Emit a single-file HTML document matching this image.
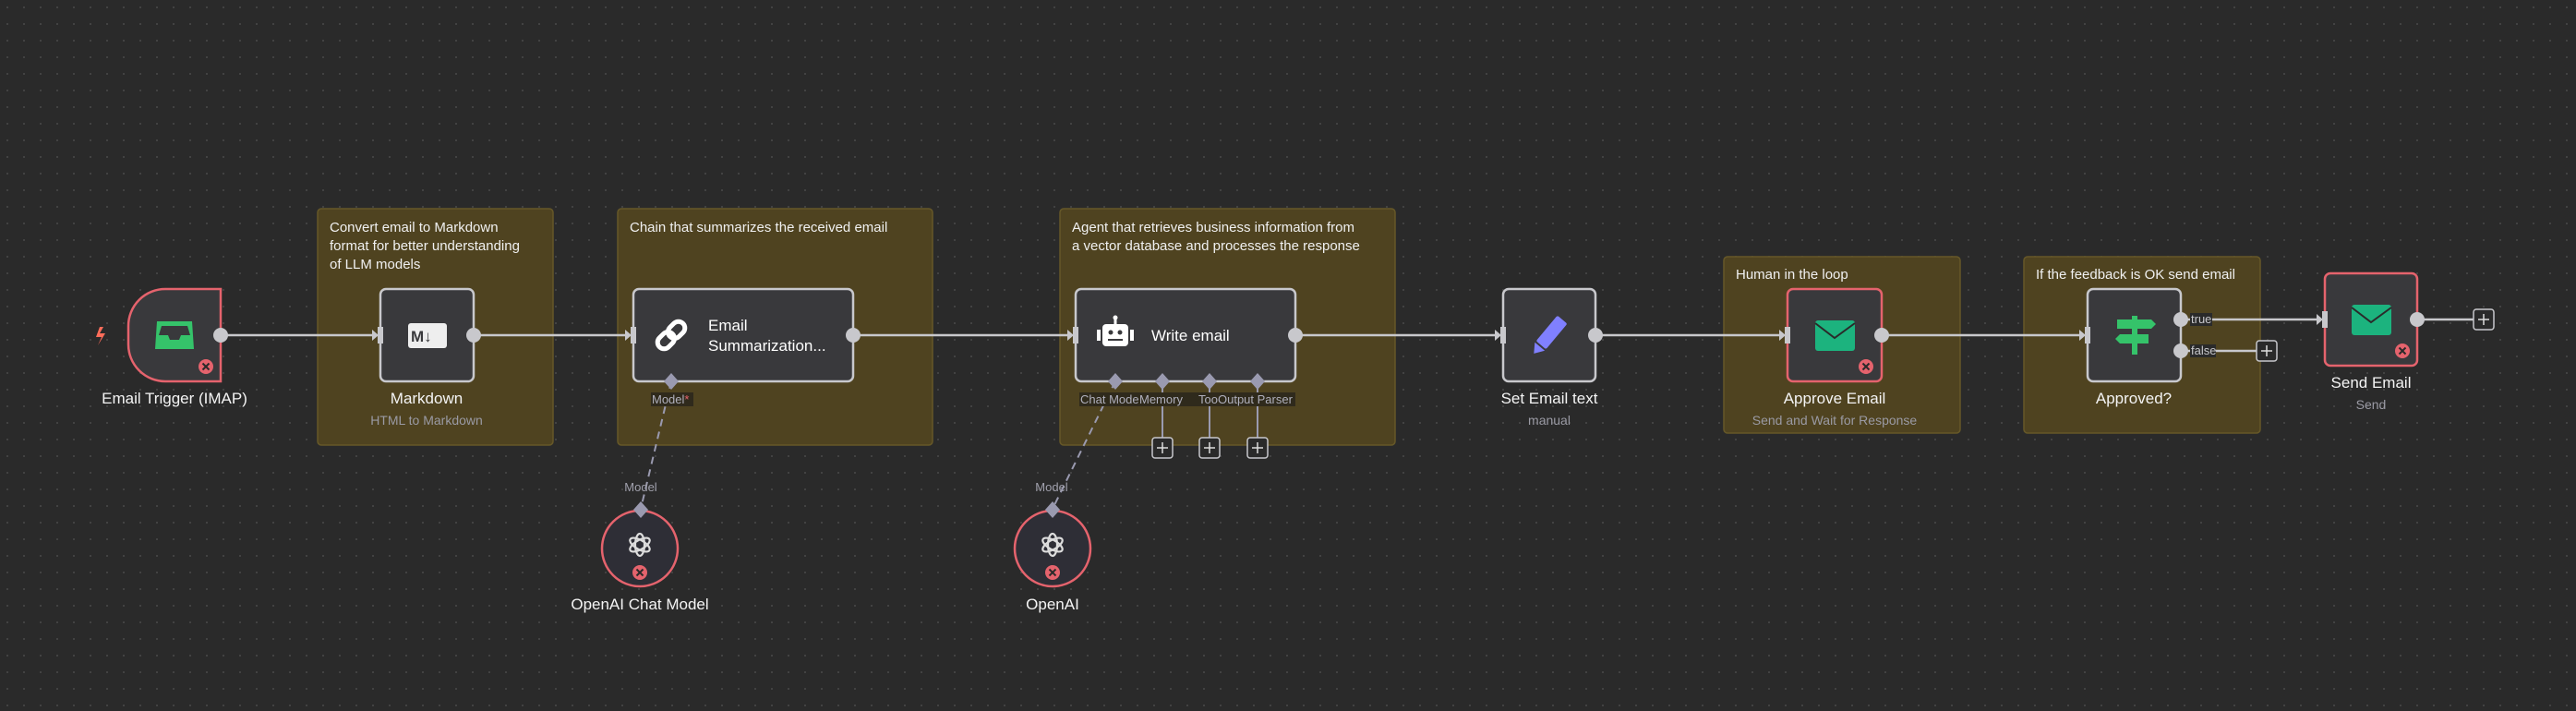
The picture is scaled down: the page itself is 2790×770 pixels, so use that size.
<!DOCTYPE html>
<html><head><meta charset="utf-8"><style>
html,body{margin:0;padding:0;background:#2a2a2a;}
svg{display:block;font-family:"Liberation Sans",sans-serif;}
</style></head><body>
<svg width="2790" height="770" viewBox="0 0 2790 770" xmlns="http://www.w3.org/2000/svg">
<defs>
<pattern id="dots" width="18" height="18" patternUnits="userSpaceOnUse"><circle cx="8" cy="8" r="1" fill="#4a4a4a"/></pattern>
<g id="xerr"><circle r="8" fill="#e5636d"/><path d="M-3.5,-3.5L3.5,3.5M3.5,-3.5L-3.5,3.5" stroke="#2a2a2a" stroke-width="2"/></g>
<g id="inh"><path d="M-9,-6L-2,0L-9,6Z" fill="#c8c8cc"/><rect x="-3" y="-9" width="6" height="18" fill="#c8c8cc"/></g>
<g id="oai"><g fill="none" stroke="#ddd" stroke-width="2.2"><ellipse rx="5" ry="12" transform="rotate(0)"/><ellipse rx="5" ry="12" transform="rotate(60)"/><ellipse rx="5" ry="12" transform="rotate(120)"/></g></g>
<g id="plus"><rect x="-11" y="-11" width="22" height="22" rx="3" fill="#2a2a2a" stroke="#c8c8cc" stroke-width="1.5"/><path d="M-6,0H6M0,-6V6" stroke="#ddd" stroke-width="1.5"/></g>
</defs>
<rect width="2790" height="770" fill="#2a2a2a"/>
<rect width="2790" height="770" fill="url(#dots)"/>

<!-- stickies -->
<g fill="#4f4320" stroke="#665828" stroke-width="1.5">
<rect x="344" y="226" width="255" height="256" rx="4"/>
<rect x="669" y="226" width="341" height="256" rx="4"/>
<rect x="1148" y="226" width="363" height="256" rx="4"/>
<rect x="1867" y="278" width="256" height="191" rx="4"/>
<rect x="2192" y="278" width="256" height="191" rx="4"/>
</g>
<g fill="#f0f0f0" font-size="15">
<text x="357" y="251">Convert email to Markdown</text>
<text x="357" y="271">format for better understanding</text>
<text x="357" y="291">of LLM models</text>
<text x="682" y="251">Chain that summarizes the received email</text>
<text x="1161" y="251">Agent that retrieves business information from</text>
<text x="1161" y="271">a vector database and processes the response</text>
<text x="1880" y="302">Human in the loop</text>
<text x="2205" y="302">If the feedback is OK send email</text>
</g>

<!-- connections -->
<g stroke="#c8c8cc" stroke-width="2.5" fill="none">
<path d="M239,363H404"/><path d="M513,363H678"/><path d="M924,363H1157"/>
<path d="M1403,363H1620"/><path d="M1728,363H1928"/><path d="M2038,363H2253"/>
<path d="M2362,346H2510"/><path d="M2362,380H2444"/><path d="M2618,346H2679"/>
</g>
<g stroke="#9a9ab0" stroke-width="2" fill="none">
<path d="M727,413L694,551" stroke-dasharray="8,6"/>
<path d="M1208,413L1140,551" stroke-dasharray="8,6"/>
<path d="M1259,413V474M1310,413V474M1362,413V474"/>
</g>

<!-- nodes -->
<path d="M179,313H239V413H179A40,40 0 0 1 139,373V353A40,40 0 0 1 179,313Z" fill="#39393c" stroke="#e5636d" stroke-width="2.5"/>
<path d="M108,354L104,365H110L106,374L114,361H108L112,354Z" fill="#ff6d5a"/>
<g transform="translate(189,363)"><path d="M-19,-15H19L21,15H-21Z M-14,-10L-17,0H-7L-5,5H5L7,0H17L14,-10Z" fill="#35c36a" fill-rule="evenodd"/></g>
<use href="#xerr" x="223" y="397"/>
<circle cx="239" cy="363" r="8" fill="#c8c8cc"/>

<rect x="412" y="313" width="101" height="100" rx="6" fill="#39393c" stroke="#c8c8cc" stroke-width="2.5"/>
<rect x="442" y="350" width="42" height="27" rx="3" fill="#eee"/>
<text x="445" y="370" font-size="17" font-weight="bold" fill="#39393c">M↓</text>
<use href="#inh" x="412" y="363"/><circle cx="513" cy="363" r="8" fill="#c8c8cc"/>

<rect x="686" y="313" width="238" height="100" rx="6" fill="#39393c" stroke="#c8c8cc" stroke-width="2.5"/>
<g transform="translate(727,363) rotate(-45)" fill="none" stroke="#fff" stroke-width="5"><rect x="-18" y="-7" width="20" height="14" rx="7"/><rect x="-2" y="-7" width="20" height="14" rx="7"/></g>
<text x="767" y="358" font-size="17" fill="#fff">Email</text>
<text x="767" y="380" font-size="17" fill="#fff">Summarization...</text>
<use href="#inh" x="686" y="363"/><circle cx="924" cy="363" r="8" fill="#c8c8cc"/>
<path d="M727,404L735,413L727,422L719,413Z" fill="#9a9ab0"/>
<rect x="705" y="425" width="46" height="15" fill="#2f2a1c"/>
<text x="706" y="437" font-size="13" fill="#b0b0bc">Model<tspan fill="#e5636d">*</tspan></text>

<rect x="1165" y="313" width="238" height="100" rx="6" fill="#39393c" stroke="#c8c8cc" stroke-width="2.5"/>
<g transform="translate(1208,363)" fill="#fff"><rect x="-14" y="-12" width="28" height="24" rx="4"/><rect x="-20" y="-6" width="4" height="12"/><rect x="16" y="-6" width="4" height="12"/><rect x="-1.5" y="-19" width="3" height="7"/><circle cy="-19" r="2.5"/></g>
<g fill="#39393c"><circle cx="1203" cy="360" r="2.5"/><circle cx="1213" cy="360" r="2.5"/><rect x="1200" y="367" width="16" height="2"/></g>
<text x="1247" y="369" font-size="17" fill="#fff">Write email</text>
<use href="#inh" x="1165" y="363"/><circle cx="1403" cy="363" r="8" fill="#c8c8cc"/>
<g fill="#9a9ab0"><path d="M1208,404L1216,413L1208,422L1200,413Z"/><path d="M1259,404L1267,413L1259,422L1251,413Z"/><path d="M1310,404L1318,413L1310,422L1302,413Z"/><path d="M1362,404L1370,413L1362,422L1354,413Z"/></g>
<rect x="1169" y="425" width="234" height="15" fill="#2f2a1c"/>
<g font-size="13" fill="#b0b0bc"><text x="1170" y="437">Chat Mode</text><text x="1234" y="437">Memory</text><text x="1298" y="437">Too</text><text x="1319" y="437">Output Parser</text></g>
<use href="#plus" x="1259" y="485"/><use href="#plus" x="1310" y="485"/><use href="#plus" x="1362" y="485"/>

<rect x="1628" y="313" width="100" height="100" rx="6" fill="#39393c" stroke="#c8c8cc" stroke-width="2.5"/>
<g transform="translate(1678,363) rotate(40)"><rect x="-7" y="-22" width="14" height="36" rx="2" fill="#8080ff"/><path d="M-7,16L7,16L0,26Z" fill="#8080ff"/></g>
<use href="#inh" x="1628" y="363"/><circle cx="1728" cy="363" r="8" fill="#c8c8cc"/>

<rect x="1936" y="313" width="102" height="100" rx="6" fill="#39393c" stroke="#e5636d" stroke-width="2.5"/>
<rect x="1966" y="347" width="43" height="33" rx="3" fill="#1cb37e"/><path d="M1966,350L1987,366L2009,350" fill="none" stroke="#2a2a2a" stroke-width="2"/>
<use href="#xerr" x="2021" y="397"/>
<use href="#inh" x="1936" y="363"/><circle cx="2038" cy="363" r="8" fill="#c8c8cc"/>

<rect x="2261" y="313" width="101" height="100" rx="6" fill="#39393c" stroke="#c8c8cc" stroke-width="2.5"/>
<g fill="#35c36a"><rect x="2309" y="342" width="6" height="42"/><path d="M2293,346H2330L2335,351L2330,356H2293Z"/><path d="M2296,362H2327V372H2296L2291,367Z"/></g>
<use href="#inh" x="2261" y="363"/><circle cx="2362" cy="346" r="8" fill="#c8c8cc"/><circle cx="2362" cy="380" r="8" fill="#c8c8cc"/>
<rect x="2372" y="339" width="24" height="14" fill="#2a2a2a"/><text x="2373" y="350" font-size="13" fill="#c8c8cc">true</text>
<rect x="2372" y="373" width="28" height="14" fill="#2a2a2a"/><text x="2373" y="384" font-size="13" fill="#c8c8cc">false</text>
<use href="#plus" x="2455" y="380"/>

<rect x="2518" y="296" width="100" height="100" rx="6" fill="#39393c" stroke="#e5636d" stroke-width="2.5"/>
<rect x="2547" y="330" width="43" height="33" rx="3" fill="#1cb37e"/><path d="M2547,333L2568,349L2590,333" fill="none" stroke="#2a2a2a" stroke-width="2"/>
<use href="#xerr" x="2602" y="380"/>
<use href="#inh" x="2518" y="346"/><circle cx="2618" cy="346" r="8" fill="#c8c8cc"/>
<use href="#plus" x="2690" y="346"/>

<!-- sub nodes -->
<circle cx="693" cy="594" r="41" fill="#2e2e36" stroke="#e5636d" stroke-width="2.5"/>
<use href="#oai" x="693" y="590"/><use href="#xerr" x="693" y="620"/>
<path d="M694,543L702,552L694,561L686,552Z" fill="#9a9ab0"/>
<text x="694" y="532" font-size="13" fill="#a0a0ac" text-anchor="middle">Model</text>
<circle cx="1140" cy="594" r="41" fill="#2e2e36" stroke="#e5636d" stroke-width="2.5"/>
<use href="#oai" x="1140" y="590"/><use href="#xerr" x="1140" y="620"/>
<path d="M1140,543L1148,552L1140,561L1132,552Z" fill="#9a9ab0"/>
<text x="1139" y="532" font-size="13" fill="#a0a0ac" text-anchor="middle">Model</text>

<!-- labels -->
<g font-size="17" fill="#f4f4f4" text-anchor="middle">
<text x="189" y="437">Email Trigger (IMAP)</text>
<text x="462" y="437">Markdown</text>
<text x="1678" y="437">Set Email text</text>
<text x="1987" y="437">Approve Email</text>
<text x="2311" y="437">Approved?</text>
<text x="2568" y="420">Send Email</text>
<text x="693" y="660">OpenAI Chat Model</text>
<text x="1140" y="660">OpenAI</text>
</g>
<g font-size="14" fill="#9a9aa4" text-anchor="middle">
<text x="462" y="460">HTML to Markdown</text>
<text x="1678" y="460">manual</text>
<text x="1987" y="460">Send and Wait for Response</text>
<text x="2568" y="443">Send</text>
</g>
</svg>
</body></html>
